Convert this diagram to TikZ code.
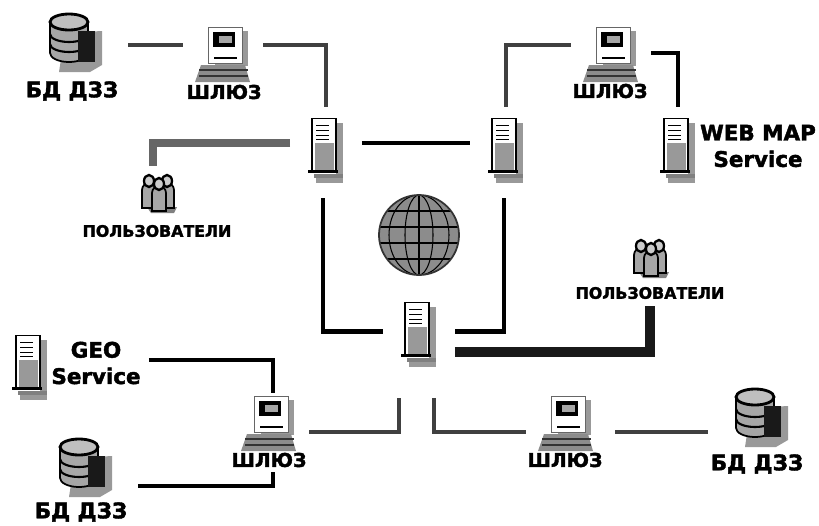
\documentclass[tikz,border=0pt]{standalone}
\usepackage{fontspec}
\setmainfont[BoldFeatures={FakeBold=2}]{DejaVu Sans}
\usetikzlibrary{patterns}

\tikzset{
	serverbox/.style={minimum width=1.42cm, minimum height=1.82cm, inner sep=0},
	gatewaybox/.style={minimum width=1.6cm, minimum height=1.6cm, inner sep=0},
	basebox/.style={minimum width=2.12cm, minimum height=1.2cm, inner sep=0},
	usersbox/.style={minimum width=.8cm, minimum height=1.08cm, inner sep=0},
	bigcaption/.style={font=\bfseries\fontsize{12.2}{15}\selectfont, align=center, inner sep=0},
	gatecaption/.style={font=\bfseries\fontsize{10.8}{13}\selectfont, inner sep=0},
	smallcaption/.style={font=\bfseries\fontsize{9}{11}\selectfont, inner sep=0},
	link/.style={line width=1.9pt, black!75},
	darklink/.style={line width=2.5pt, black},
	widelink/.style={line width=4.6pt, black!60},
	blacklink/.style={line width=5.2pt, black!90},
	server/.pic={
		\fill[black!40] (-10,-30) rectangle (17,30);
		\fill[white] (-18,-35) rectangle (10,21);
		\draw[line width=1pt] (-14,-34) rectangle (10,19);
		\fill[black!40] (-11,-10) rectangle (8,17);
		\foreach \y in {-27,-22,-17,-13}
			\draw[line width=.7pt] (-10,\y) -- (3,\y);
		\draw[line width=1.2pt] (-18,19) -- (12,19);
		\fill[black!50] (-12,21) rectangle (17,25);
	},
	gateway/.pic={
		\fill[black!40] (-8,-24) rectangle (25,11);
		\fill[white] (-15,-28) rectangle (19,8);
		\draw[line width=.5pt, black!60] (-15,-28) rectangle (19,8);
		\fill[black] (-10,-23) rectangle (12,-8);
		\fill[black!35] (-4,-19) rectangle (9,-12);
		\draw[line width=1.4pt] (-9,3) -- (14,3);
		\fill[black!45] (-22,10) -- (22,10) -- (27,27) -- (-28,27) -- cycle;
		\foreach \y in {15,21}
			\draw[line width=.9pt, black!80] (-24,\y) -- (25,\y);
	},
	database/.pic={
		\fill[black!40] (-10,-10) -- (27,-12) -- (27,22) -- (15,29) -- (-16,29) -- cycle;
		\fill[black!35] (-25,-20) -- (-25,10) arc[start angle=180, end angle=0, x radius=19, y radius=9] -- (13,-20) -- cycle;
		\foreach \y in {-9,1}
			\draw[line width=1.2pt, black] (-25,\y) arc[start angle=180, end angle=0, x radius=19, y radius=8];
		\draw[line width=1pt] (-25,-20) -- (-25,10) arc[start angle=180, end angle=0, x radius=19, y radius=9] -- (13,-20);
		\filldraw[fill=black!25, draw=black, line width=1.6pt] (-6,-21) ellipse[x radius=19, y radius=8];
		\fill[black!90] (3,-12) rectangle (20,19);
	},
	users/.pic={
		\fill[black!50] (-12,14) -- (18,14) -- (15,20) -- (-8,20) -- cycle;
		\foreach \x/\y in {-10/0,8/0,0/3}{
			\filldraw[fill=black!35, draw=black, line width=1pt] (\x-7,\y+15) -- (\x-7,\y-3) arc[start angle=180, end angle=360, radius=7] -- (\x+7,\y+15) -- cycle;
			\filldraw[fill=black!20, draw=black, line width=1.3pt] (\x,\y-12) ellipse[x radius=5, y radius=6];
		}
	},
	globe/.pic={
		\begin{scope}
			\clip (0,0) circle[radius=40];
			\fill[black!45] (0,0) circle[radius=40];
			\foreach \rad in {14,30}
				\draw[line width=.6pt] (0,0) ellipse[x radius=\rad, y radius=40];
			\draw[line width=.6pt] (0,-40) -- (0,40);
			\foreach \y in {-24,-8,8,24}
				\draw[line width=.6pt] (-40,\y) -- (40,\y);
		\end{scope}
		\draw[line width=1pt, black!80] (0,0) circle[radius=40];
	}
}

\begin{document}
\begin{tikzpicture}[x=.02cm, y=-.02cm]
	\useasboundingbox (0,0) rectangle (819,525);

	% servers
	\foreach \name/\pos in {srvA/{(326,152.5)}, srvB/{(506,152.5)}, srvC/{(678,152.5)}, srvD/{(419,336.5)}, srvE/{(30,369.5)}}{
		\node[serverbox] (\name) at \pos {};
		\pic at (\name) {server};
	}
	% gateways
	\foreach \name/\pos in {gateA/{(223,55)}, gateB/{(611,55)}, gateC/{(269,424)}, gateD/{(566,424)}}{
		\node[gatewaybox] (\name) at \pos {};
		\pic at (\name) {gateway};
	}
	% databases
	\foreach \name/\pos in {baseA/{(75,43)}, baseB/{(85,468)}, baseC/{(761,418)}}{
		\node[basebox] (\name) at \pos {};
		\pic at (\name) {database};
	}
	\node[usersbox] (usersA) at (159,193) {};
	\pic at (usersA) {users};
	\node[usersbox] (usersB) at (651,258) {};
	\pic at (usersB) {users};
	\pic at (419,235) {globe};

	\node[bigcaption] (capBaseA) at (72,91) {БД ДЗЗ};
	\node[bigcaption] (capBaseB) at (81,512) {БД ДЗЗ};
	\node[bigcaption] (capBaseC) at (757,464) {БД ДЗЗ};
	\node[gatecaption] (capGateA) at (224,92) {ШЛЮЗ};
	\node[gatecaption] (capGateB) at (610,91) {ШЛЮЗ};
	\node[gatecaption] (capGateC) at (269,460) {ШЛЮЗ};
	\node[gatecaption] (capGateD) at (565,460) {ШЛЮЗ};
	\node[bigcaption] (capWeb) at (758,146) {WEB MAP\\Service};
	\node[bigcaption] (capGeo) at (96,363) {GEO\\Service};
	\node[smallcaption] (capUsersA) at (157,231) {ПОЛЬЗОВАТЕЛИ};
	\node[smallcaption] (capUsersB) at (650,293) {ПОЛЬЗОВАТЕЛИ};

	\draw[link] ([shift={(0,2)}]baseA.east) -- ([shift={(0,-10)}]gateA.west);
	\draw[link] ([shift={(0,-10)}]gateA.east) -| (srvA.north);
	\draw[widelink] ([shift={(0,-9.5)}]srvA.west) -| ([shift={(-6,0)}]usersA.north);
	\draw[darklink] ([shift={(0,-9.5)}]srvA.east) -- ([shift={(0,-9.5)}]srvB.west);
	\draw[link] (srvB.north) |- ([shift={(0,-10)}]gateB.west);
	\draw[darklink] ([shift={(0,-2)}]gateB.east) -| (srvC.north);
	\draw[darklink] ([shift={(-3,0)}]srvA.south) |- ([shift={(0,-5)}]srvD.west);
	\draw[darklink] ([shift={(-2,0)}]srvB.south) |- ([shift={(0,-5)}]srvD.east);
	\draw[blacklink] ([shift={(0,15.5)}]srvD.east) -| ([shift={(0,7)}]capUsersB.south);
	\draw[darklink] ([shift={(8,-3)}]capGeo.east) -| ([shift={(4,9)}]gateC.north);
	\draw[darklink] ([shift={(0,18)}]baseB.east) -| ([shift={(4,8)}]gateC.south);
	\draw[link] ([shift={(0,8)}]gateC.east) -| ([shift={(-20,15.5)}]srvD.south);
	\draw[link] ([shift={(15,15.5)}]srvD.south) |- ([shift={(0,8)}]gateD.west);
	\draw[link] ([shift={(9,8)}]gateD.east) -- ([shift={(0,14)}]baseC.west);
\end{tikzpicture}
\end{document}
